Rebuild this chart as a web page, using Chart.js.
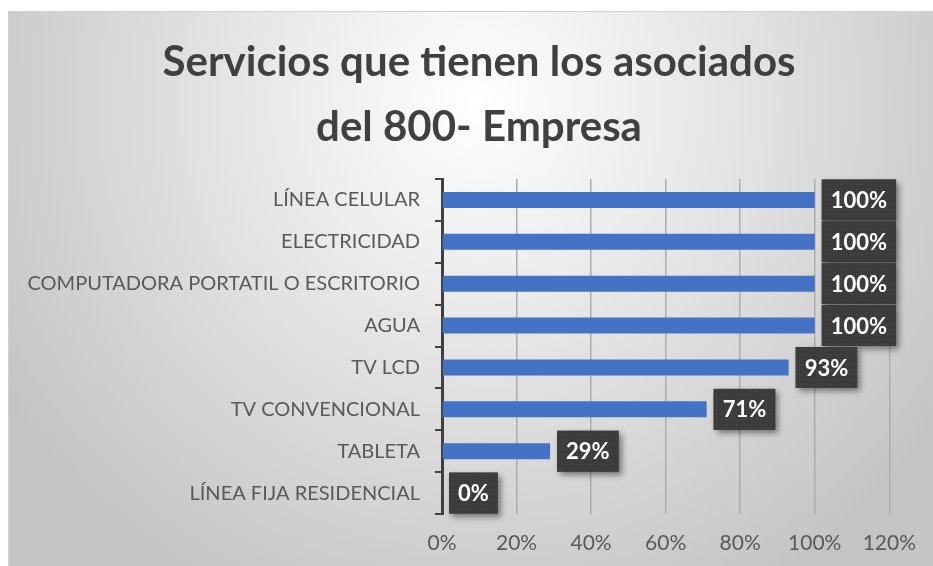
<!DOCTYPE html>
<html><head><meta charset="utf-8">
<script src="https://cdn.jsdelivr.net/npm/chart.js@4"></script>
<style>
html,body{margin:0;padding:0;background:#fff;width:933px;height:566px;overflow:hidden}
#wrap{position:absolute;left:8px;top:11px;width:925px;height:555px;border-top:1px solid #d0d0d0;border-left:1px solid #d0d0d0;}
canvas{display:block}
</style></head><body>
<div id="wrap"><canvas id="c" width="924" height="554"></canvas></div>
<script>
const titleLines = ['Servicios que tienen los asociados', 'del 800- Empresa'];
const categories = ['LÍNEA CELULAR', 'ELECTRICIDAD', 'COMPUTADORA PORTATIL O ESCRITORIO', 'AGUA', 'TV LCD', 'TV CONVENCIONAL', 'TABLETA', 'LÍNEA FIJA RESIDENCIAL'];
const values = [100, 100, 100, 100, 93, 71, 29, 0];
const xTickValues = [0, 20, 40, 60, 80, 100, 120];

const pc = document.createElement('canvas'); pc.width = 5; pc.height = 5;
const pctx = pc.getContext('2d');
pctx.fillStyle = '#3c3c3c'; pctx.fillRect(0, 0, 5, 5);
pctx.fillStyle = '#4f4f4f'; pctx.fillRect(2, 2, 1, 1);

const bgPlugin = {
  id: 'bg',
  afterLayout(chart) {
    const t = chart.titleBlock;
    if (t) { t.left = 16; t.right = 924; t.width = 908; }
  },
  beforeDraw(chart) {
    const {ctx, width, height} = chart;
    const g = ctx.createRadialGradient(470, 90, 0, 470, 90, 560);
    g.addColorStop(0, '#ffffff');
    g.addColorStop(1, '#c4c4c4');
    ctx.save(); ctx.fillStyle = g; ctx.fillRect(0, 0, width, height); ctx.restore();
  }
};

const labelPlugin = {
  id: 'boxLabels',
  afterDatasetsDraw(chart) {
    const ctx = chart.ctx;
    const pattern = ctx.createPattern(pc, 'repeat');
    const meta = chart.getDatasetMeta(0);
    const ds = chart.data.datasets[0];
    const ys = chart.scales.y;
    const cat = (ys.bottom - ys.top) / chart.data.labels.length;
    ctx.save();
    ctx.font = 'bold 22px Lato';
    meta.data.forEach((el, i) => {
      const txt = ds.data[i] + '%';
      const tw = ctx.measureText(txt).width;
      const w = tw + 18, h = cat - 1;
      const x = el.x + 7, y = el.y - h / 2;
      ctx.save();
      ctx.shadowColor = 'rgba(0,0,0,0.45)';
      ctx.shadowBlur = 6; ctx.shadowOffsetX = 3; ctx.shadowOffsetY = 3;
      ctx.fillStyle = '#3c3c3c'; ctx.fillRect(x, y, w, h);
      ctx.restore();
      ctx.fillStyle = pattern; ctx.fillRect(x, y, w, h);
      ctx.fillStyle = '#ffffff';
      ctx.textAlign = 'center'; ctx.textBaseline = 'middle';
      ctx.fillText(txt, x + w / 2, el.y + 1);
    });
    ctx.restore();
  }
};

function draw() {
  new Chart(document.getElementById('c'), {
    type: 'bar',
    data: {
      labels: categories,
      datasets: [{ data: values, backgroundColor: '#4472C4', borderWidth: 0, categoryPercentage: 1, barPercentage: 0.38 }]
    },
    options: {
      indexAxis: 'y',
      responsive: false,
      animation: false,
      layout: { padding: { left: 0, right: 43, top: 0, bottom: 11 } },
      plugins: {
        legend: { display: false },
        tooltip: { enabled: false },
        title: {
          display: true, text: titleLines, color: '#404040',
          font: { family: 'Lato', weight: 'bold', size: 42, lineHeight: 65 / 42 },
          padding: { top: 17.5, bottom: 19.5 }
        }
      },
      scales: {
        x: {
          min: 0, max: 120,
          afterBuildTicks(scale) { scale.ticks = xTickValues.map(v => ({ value: v })); },
          afterFit(scale) { scale.height = 41; },
          ticks: { callback: v => v + '%', color: '#595959', font: { family: 'Lato', size: 21 }, padding: 17 },
          grid: { color: '#acacac', lineWidth: 1.5, drawTicks: false },
          border: { display: false }
        },
        y: {
          afterFit(scale) { scale.width = 433; },
          ticks: { color: '#595959', font: { family: 'Lato', size: 20 }, padding: 15 },
          grid: { drawOnChartArea: false, color: '#404040', lineWidth: 2, tickLength: 7, offset: true },
          border: { display: true, color: '#404040', width: 3 }
        }
      }
    },
    plugins: [bgPlugin, labelPlugin]
  });
}
Promise.all([
  document.fonts.load('bold 42px Lato'),
  document.fonts.load('20px Lato')
]).then(draw, draw);
</script>
</body></html>
